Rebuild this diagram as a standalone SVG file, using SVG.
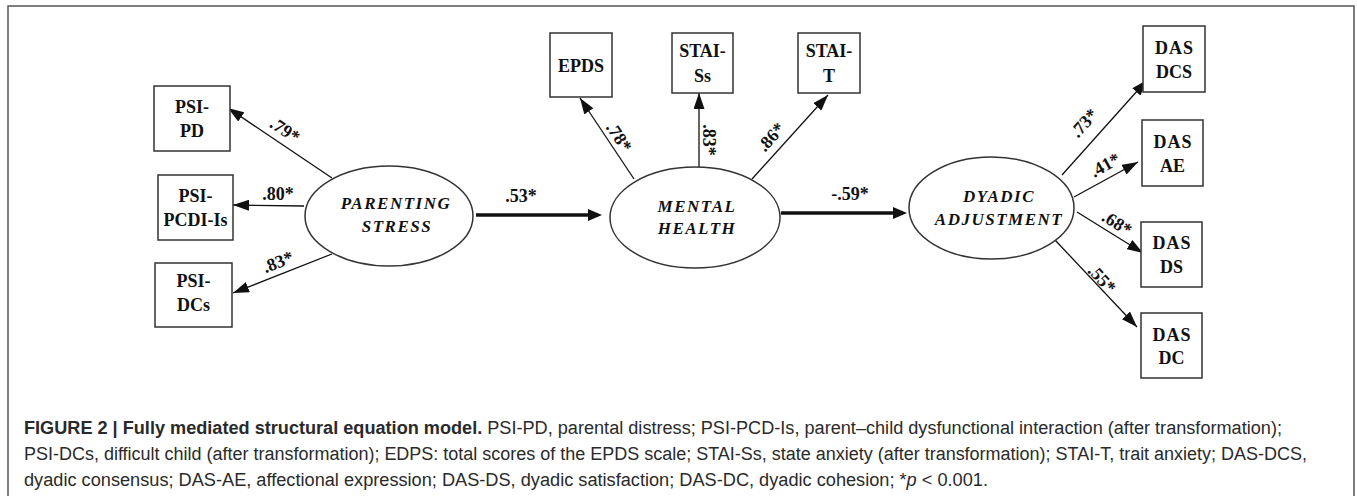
<svg xmlns="http://www.w3.org/2000/svg" width="1357" height="496" viewBox="0 0 1357 496">
<defs>
<marker id="ah" markerUnits="userSpaceOnUse" markerWidth="16" markerHeight="11" refX="16" refY="5.5" orient="auto">
<path d="M0,0 L16,5.5 L0,11 z" fill="#111"/>
</marker>
<marker id="ahb" markerUnits="userSpaceOnUse" markerWidth="14" markerHeight="12" refX="10" refY="6" orient="auto">
<path d="M0,0 L14,6 L0,12 z" fill="#111"/>
</marker>
<style>
.box{fill:#fff;stroke:#333;stroke-width:1.5}
.ell{fill:#fff;stroke:#333;stroke-width:1.5}
.bt{font-family:"Liberation Serif","Times New Roman",serif;font-weight:bold;font-size:18px;fill:#111;text-anchor:middle}
.das{letter-spacing:1px}
.et{font-family:"Liberation Serif","Times New Roman",serif;font-weight:bold;font-style:italic;font-size:17px;letter-spacing:1.5px;fill:#111;text-anchor:middle}
.lb{font-family:"Liberation Serif","Times New Roman",serif;font-weight:bold;font-size:18px;fill:#111;text-anchor:middle}
.thin{stroke:#111;stroke-width:1.3;fill:none;marker-end:url(#ah)}
.thick{stroke:#111;stroke-width:3.5;fill:none;marker-end:url(#ahb)}
.cap{font-family:"Liberation Sans",Arial,sans-serif;font-size:18px;fill:#2a2a2a}
</style>
</defs>
<rect width="1357" height="496" fill="#fff"/>
<path d="M8,496 V6 H1354 V496" fill="none" stroke="#555" stroke-width="1.5"/>

<g id="connectors">
<line class="thin" x1="332" y1="178" x2="228" y2="108"/>
<line class="thin" x1="304" y1="206" x2="233" y2="205"/>
<line class="thin" x1="332" y1="254" x2="233" y2="293"/>
<line class="thin" x1="634" y1="179" x2="580" y2="98"/>
<line class="thin" x1="699" y1="167" x2="699" y2="93"/>
<line class="thin" x1="752" y1="179" x2="828" y2="95"/>
<line class="thin" x1="1062" y1="175" x2="1147" y2="80"/>
<line class="thin" x1="1074" y1="197" x2="1138" y2="162"/>
<line class="thin" x1="1077" y1="212" x2="1143" y2="253"/>
<line class="thin" x1="1055" y1="240" x2="1137" y2="327"/>
<line class="thick" x1="476" y1="215" x2="598" y2="215"/>
<line class="thick" x1="781" y1="213" x2="903" y2="213"/>
<text class="lb" transform="translate(285,130) rotate(34)" y="6">.79*</text>
<text class="lb" x="278" y="200">.80*</text>
<text class="lb" transform="translate(278,262) rotate(-21.5)" y="6">.83*</text>
<text class="lb" x="521" y="202">.53*</text>
<text class="lb" transform="translate(619,137) rotate(56)" y="6">.78*</text>
<text class="lb" transform="translate(709,140) rotate(90)" y="6">.83*</text>
<text class="lb" transform="translate(771,137) rotate(-48)" y="6">.86*</text>
<text class="lb" x="850" y="200">-.59*</text>
<text class="lb" transform="translate(1084,123) rotate(-48)" y="6">.73*</text>
<text class="lb" transform="translate(1105,165) rotate(-29)" y="6">.41*</text>
<text class="lb" transform="translate(1117,223) rotate(32)" y="6">.68*</text>
<text class="lb" transform="translate(1102,279) rotate(47)" y="6">.55*</text>
</g>

<g id="psi-pd"><rect class="box" x="154" y="86" width="76" height="65"/><text class="bt" x="192" y="113">PSI-</text><text class="bt" x="192" y="137">PD</text></g>
<g id="psi-pcdi-is"><rect class="box" x="158" y="175" width="75" height="65"/><text class="bt" x="195.5" y="202">PSI-</text><text class="bt" x="195.5" y="226">PCDI-Is</text></g>
<g id="psi-dcs"><rect class="box" x="155" y="263" width="77" height="64"/><text class="bt" x="193.5" y="287">PSI-</text><text class="bt" x="193.5" y="311">DCs</text></g>
<g id="parenting-stress"><ellipse class="ell" cx="389" cy="216" rx="84" ry="50"/><text class="et" x="396" y="209">PARENTING</text><text class="et" x="397" y="232">STRESS</text></g>

<g id="epds"><rect class="box" x="550" y="33" width="62" height="64"/><text class="bt" x="581" y="72">EPDS</text></g>
<g id="stai-ss"><rect class="box" x="672" y="33" width="61" height="60"/><text class="bt" x="702.5" y="57">STAI-</text><text class="bt" x="702.5" y="82">Ss</text></g>
<g id="stai-t"><rect class="box" x="798" y="33" width="62" height="60"/><text class="bt" x="829" y="57">STAI-</text><text class="bt" x="829" y="82">T</text></g>
<g id="mental-health"><ellipse class="ell" cx="695" cy="217.5" rx="85" ry="50.5"/><text class="et" x="697" y="212">MENTAL</text><text class="et" x="697" y="234">HEALTH</text></g>

<g id="dyadic-adjustment"><ellipse class="ell" cx="991.5" cy="208" rx="82.5" ry="51"/><text class="et" x="999" y="202">DYADIC</text><text class="et" x="999" y="225">ADJUSTMENT</text></g>
<g id="das-dcs"><rect class="box" x="1143" y="26" width="62" height="66"/><text class="bt das" x="1174.5" y="54">DAS</text><text class="bt" x="1174" y="78">DCS</text></g>
<g id="das-ae"><rect class="box" x="1142" y="120" width="61" height="66"/><text class="bt das" x="1173" y="148">DAS</text><text class="bt" x="1172.5" y="172">AE</text></g>
<g id="das-ds"><rect class="box" x="1141" y="222" width="61" height="65"/><text class="bt das" x="1172" y="249">DAS</text><text class="bt" x="1171.5" y="273">DS</text></g>
<g id="das-dc"><rect class="box" x="1141" y="313" width="61" height="65"/><text class="bt das" x="1172" y="341">DAS</text><text class="bt" x="1171.5" y="364">DC</text></g>

<g id="caption">
<text class="cap" x="24" y="434" textLength="1258" lengthAdjust="spacingAndGlyphs"><tspan font-weight="bold">FIGURE 2 | Fully mediated structural equation model.</tspan> PSI-PD, parental distress; PSI-PCD-Is, parent–child dysfunctional interaction (after transformation);</text>
<text class="cap" x="24" y="460" textLength="1283" lengthAdjust="spacingAndGlyphs">PSI-DCs, difficult child (after transformation); EDPS: total scores of the EPDS scale; STAI-Ss, state anxiety (after transformation); STAI-T, trait anxiety; DAS-DCS,</text>
<text class="cap" x="24" y="486" textLength="964" lengthAdjust="spacingAndGlyphs">dyadic consensus; DAS-AE, affectional expression; DAS-DS, dyadic satisfaction; DAS-DC, dyadic cohesion; *<tspan font-style="italic">p</tspan> &lt; 0.001.</text>
</g>
</svg>
